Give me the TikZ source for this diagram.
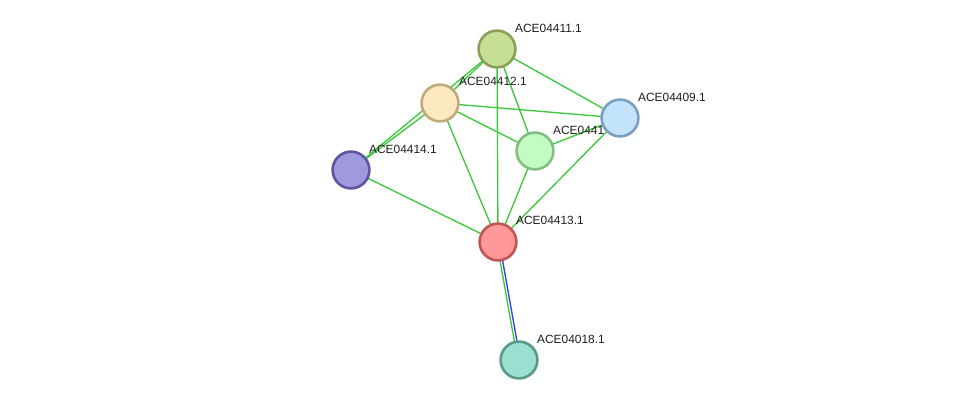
\documentclass[tikz,border=0pt]{standalone}
\usepackage{fontspec}
\setmainfont{Liberation Sans}
\pgfdeclarelayer{edges}
\pgfdeclarelayer{labels}
\pgfsetlayers{edges,labels,main}
\definecolor{edgegreen}{RGB}{61,200,61}
\definecolor{edgeblue}{RGB}{60,60,240}
\definecolor{f411}{RGB}{198,223,149}\definecolor{b411}{RGB}{136,160,90}
\definecolor{f412}{RGB}{253,233,192}\definecolor{b412}{RGB}{192,170,122}
\definecolor{f414}{RGB}{159,153,222}\definecolor{b414}{RGB}{93,85,160}
\definecolor{f410}{RGB}{194,252,194}\definecolor{b410}{RGB}{130,192,130}
\definecolor{f409}{RGB}{195,227,251}\definecolor{b409}{RGB}{125,159,191}
\definecolor{f413}{RGB}{255,152,152}\definecolor{b413}{RGB}{192,85,85}
\definecolor{f018}{RGB}{153,224,208}\definecolor{b018}{RGB}{90,154,138}
\tikzset{
  prot/.style n args={2}{circle, minimum size=36.8pt, inner sep=0pt, line width=2.6pt, fill=#1, draw=#2},
  lbl/.style={anchor=base west, inner sep=0pt, font=\fontsize{11.9}{13}\selectfont, text=black!88},
  ppi/.style={edgegreen, line width=1.35pt},
  ppiblue/.style={edgeblue, line width=1.35pt}
}
\begin{document}
\begin{tikzpicture}[x=1pt,y=-1pt]
\useasboundingbox (0,0) rectangle (975,406);
\node[prot={f411}{b411}] (n411) at (497,49) {};
\node[prot={f412}{b412}] (n412) at (440,103) {};
\node[prot={f414}{b414}] (n414) at (351,170) {};
\node[prot={f410}{b410}] (n410) at (535,151) {};
\node[prot={f409}{b409}] (n409) at (620,118) {};
\node[prot={f413}{b413}] (n413) at (498,242) {};
\node[prot={f018}{b018}] (n018) at (519,360) {};
\begin{pgfonlayer}{labels}
\node[lbl] (l411) at (515,33) {ACE04411.1};
\node[lbl] (l412) at (459,86) {ACE04412.1};
\node[lbl] (l414) at (369,154) {ACE04414.1};
\node[lbl] (l410) at (553,135) {ACE0441};
\node[lbl] (l409) at (638,102) {ACE04409.1};
\node[lbl] (l413) at (516,225) {ACE04413.1};
\node[lbl] (l018) at (537,343) {ACE04018.1};
\end{pgfonlayer}
\begin{pgfonlayer}{edges}
\draw[ppi] (n411.center) -- (n412.center);
\draw[ppi] (n411.center) -- (n414.center);
\draw[ppi] (n412.center) -- (n414.center);
\draw[ppi] (n411.center) -- (n413.center);
\draw[ppi] (n411.center) -- (n410.center);
\draw[ppi] (n411.center) -- (n409.center);
\draw[ppi] (n412.center) -- (n409.center);
\draw[ppi] (n412.center) -- (n410.center);
\draw[ppi] (n412.center) -- (n413.center);
\draw[ppi] (n414.center) -- (n413.center);
\draw[ppi] (n410.center) -- (n409.center);
\draw[ppi] (n410.center) -- (n413.center);
\draw[ppi] (n409.center) -- (n413.center);
\draw[ppi] ([xshift=-1.3pt]n413.center) -- ([xshift=-1.3pt]n018.center);
\draw[ppiblue] ([xshift=1.3pt]n413.center) -- ([xshift=1.3pt]n018.center);
\end{pgfonlayer}
\end{tikzpicture}
\end{document}
